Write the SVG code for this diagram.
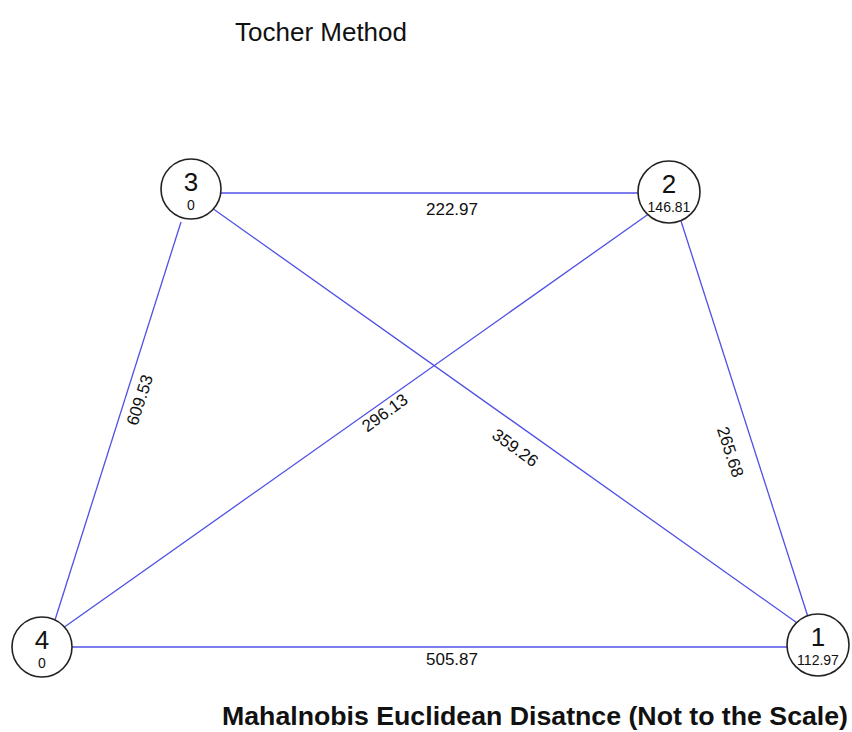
<svg xmlns="http://www.w3.org/2000/svg" width="852" height="732" viewBox="0 0 852 732">
<style>
.e{stroke:#5050e6;stroke-width:1.3;fill:none}
.n{fill:#fff;stroke:#222;stroke-width:1.6}
.t{font-family:"Liberation Sans",Arial,sans-serif;fill:#111;text-anchor:middle}
.num{font-size:26px}
.sub{font-size:14px}
.lab{font-size:17px;dominant-baseline:central}
</style>
<rect width="852" height="732" fill="#fff"/>
<text class="t" x="321" y="41" font-size="26">Tocher Method</text>
<g id="connectors">
<line class="e" x1="221" y1="193" x2="639" y2="193"/>
<line class="e" x1="72" y1="647" x2="787" y2="647"/>
<line class="e" x1="212" y1="208" x2="800" y2="625"/>
<line class="e" x1="650" y1="213" x2="63" y2="628"/>
<line class="e" x1="181" y1="222" x2="55" y2="620"/>
<line class="e" x1="681" y1="221" x2="808" y2="617"/>
<text class="t lab" x="452" y="209">222.97</text>
<text class="t lab" x="452" y="659">505.87</text>
<text class="t lab" transform="translate(140 400) rotate(-72)">609.53</text>
<text class="t lab" transform="translate(385 413) rotate(-36)">296.13</text>
<text class="t lab" transform="translate(515 448) rotate(36)">359.26</text>
<text class="t lab" transform="translate(730 452) rotate(72)">265.68</text>
</g>
<g id="node3">
<circle class="n" cx="191" cy="189" r="30"/>
<text class="t num" x="191" y="191">3</text>
<text class="t sub" x="191" y="210">0</text>
</g>
<g id="node2">
<circle class="n" cx="669" cy="192" r="31"/>
<text class="t num" x="669" y="193">2</text>
<text class="t sub" x="669" y="212">146.81</text>
</g>
<g id="node4">
<circle class="n" cx="42" cy="647" r="30"/>
<text class="t num" x="42" y="649">4</text>
<text class="t sub" x="42" y="668">0</text>
</g>
<g id="node1">
<circle class="n" cx="818" cy="645" r="31"/>
<text class="t num" x="818" y="646">1</text>
<text class="t sub" x="818" y="665">112.97</text>
</g>
<text class="t" x="535" y="725" font-size="26.5" font-weight="bold" textLength="626" lengthAdjust="spacingAndGlyphs">Mahalnobis Euclidean Disatnce (Not to the Scale)</text>
</svg>
